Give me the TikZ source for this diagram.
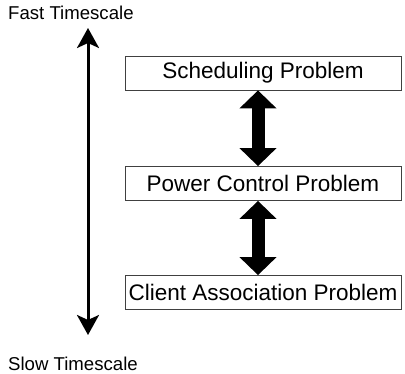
\documentclass[tikz,border=0pt]{standalone}
\usepackage{fontspec}
\setmainfont{Liberation Sans}
\usetikzlibrary{positioning}
\usetikzlibrary{arrows.meta}

\begin{document}
\begin{tikzpicture}[x=1pt,y=1pt,
            problem/.style={draw=black!75,line width=0.8pt,rectangle,minimum width=276pt,minimum height=34pt,inner sep=0pt,font=\fontsize{22.5}{26}\selectfont},
            timescale/.style={anchor=west,inner sep=0pt,font=\fontsize{18.6}{22}\selectfont},
            coupling/.style={line width=13pt,{Triangle[length=18pt,width=36pt]}-{Triangle[length=18pt,width=36pt]}}]
            \useasboundingbox (0,0) rectangle (405,-374);
            %
            \node[timescale] (fast) at (8,-13) {Fast Timescale};
            \node[timescale] (slow) at (8,-364) {Slow Timescale};
            \coordinate (top) at (88,-28);
            \coordinate (bottom) at (88,-335);
            \draw [line width=3pt,{Stealth[length=20pt,width=22pt,inset=5pt]}-{Stealth[length=20pt,width=22pt,inset=5pt]}] (bottom) -- (top);
            %
            \node[problem] (sched) at (263,-73) {Scheduling Problem};
            \node[problem] (power) at (263,-183.5) {Power Control Problem};
            \node[problem] (client) at (263,-292.5) {Client Association Problem};
            %
            \draw [coupling] ([xshift=-5pt]sched.south) -- ([xshift=-5pt]power.north);
            \draw [coupling] ([xshift=-5pt]power.south) -- ([xshift=-5pt]client.north);
            %
        \end{tikzpicture}
\end{document}
